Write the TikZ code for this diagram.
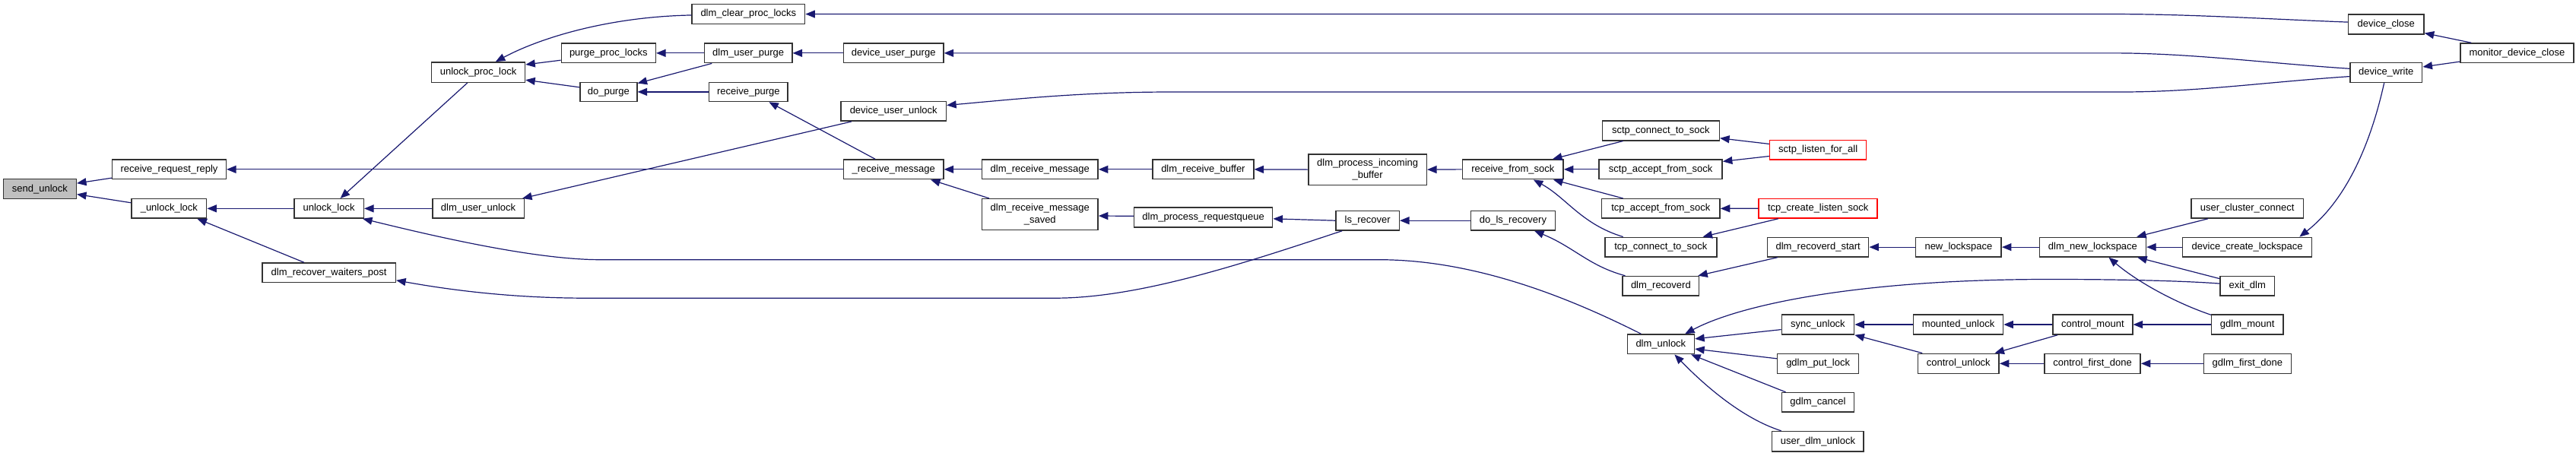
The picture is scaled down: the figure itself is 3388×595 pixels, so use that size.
\documentclass[tikz,border=0pt]{standalone}
\usepackage{fontspec}
\setmainfont{Liberation Sans}
\usetikzlibrary{arrows.meta,calc}
\definecolor{edgeblue}{HTML}{191970}
\definecolor{boxline}{HTML}{333333}
\definecolor{rootfill}{HTML}{BFBFBF}
\tikzset{
  box/.style={draw=boxline, line width=1.5pt, fill=white, inner sep=0pt, align=center,
    font=\fontsize{13}{15.3}\selectfont},
  redbox/.style={draw=red},
  rootbox/.style={fill=rootfill},
  edge/.style={draw=edgeblue, line width=1.2pt, -{Triangle[length=12.5pt,width=10pt]}},
}
\newcommand\gbox[7][]{%
  \node[box,#1,minimum width={(#5-#3)*1pt},minimum height={(#6-#4)*1pt}] (#2) at ({(#3+#5)/2},{(#4+#6)/2}) {#7};}
\begin{document}
\begin{tikzpicture}[x=1pt,y=-1pt]
\useasboundingbox (0,0) rectangle (3388,595);
% nodes
\gbox[rootbox]{sendu}{4.6}{235.7}{100.3}{261.7}{send\_unlock}
\gbox{rrr}{147.7}{210}{297.3}{235.7}{receive\_request\_reply}
\gbox{ulock}{173}{261.7}{271.7}{287}{\_unlock\_lock}
\gbox{unl}{386.9}{261.7}{478.3}{287}{unlock\_lock}
\gbox{dwp}{344.8}{346}{520.4}{371.6}{dlm\_recover\_waiters\_post}
\gbox{upl}{567.7}{81.9}{690.5}{108.3}{unlock\_proc\_lock}
\gbox{dcpl}{910.1}{5.7}{1058.6}{31.4}{dlm\_clear\_proc\_locks}
\gbox{ppl}{738.3}{57}{862.3}{82.7}{purge\_proc\_locks}
\gbox{dup}{926.6}{57}{1041.8}{82.7}{dlm\_user\_purge}
\gbox{dop}{762.8}{108.3}{837.8}{133.5}{do\_purge}
\gbox{rp}{932.7}{108.3}{1036}{133.5}{receive\_purge}
\gbox{dlmuu}{568.8}{261.7}{689.3}{287}{dlm\_user\_unlock}
\gbox{dupg}{1109.5}{57}{1240.9}{82.7}{device\_user\_purge}
\gbox{duu}{1106}{133.5}{1244.4}{159.2}{device\_user\_unlock}
\gbox{rm}{1109.5}{210}{1240.9}{235.7}{\_receive\_message}
\gbox{drm}{1291.4}{210}{1444.1}{235.7}{dlm\_receive\_message}
\gbox{drms}{1291.4}{261.7}{1444.1}{302.7}{dlm\_receive\_message\\\_saved}
\gbox{drb}{1516}{210}{1648.8}{235.7}{dlm\_receive\_buffer}
\gbox{dpr}{1491.6}{273.2}{1673.7}{299.2}{dlm\_process\_requestqueue}
\gbox{dpib}{1721}{202.8}{1876.3}{243.4}{dlm\_process\_incoming\\\_buffer}
\gbox{rfs}{1923.4}{210}{2056.2}{235.7}{receive\_from\_sock}
\gbox{lsr}{1756.9}{277.4}{1840.3}{303}{ls\_recover}
\gbox{dlr}{1934.5}{277.4}{2045.4}{303}{do\_ls\_recovery}
\gbox{sct}{2107.4}{159.2}{2261.3}{184.8}{sctp\_connect\_to\_sock}
\gbox{sas}{2103.2}{210}{2265.1}{235.7}{sctp\_accept\_from\_sock}
\gbox{tas}{2106.7}{261.7}{2262}{287}{tcp\_accept\_from\_sock}
\gbox{tcs}{2110.9}{312.3}{2257.8}{337.9}{tcp\_connect\_to\_sock}
\gbox{dlmrd}{2134.2}{363.5}{2234.5}{389.2}{dlm\_recoverd}
\gbox{dlmu}{2140.3}{440}{2228.4}{465.7}{dlm\_unlock}
\gbox[redbox]{sla}{2327.6}{184.4}{2454.7}{210.1}{sctp\_listen\_for\_all}
\gbox[redbox]{tcls}{2313.1}{261.4}{2469.2}{287}{tcp\_create\_listen\_sock}
\gbox{drs}{2324.6}{312.3}{2457.7}{337.9}{dlm\_recoverd\_start}
\gbox{nl}{2519.7}{312.3}{2632.2}{337.9}{new\_lockspace}
\gbox{dnl}{2682.4}{312.3}{2822.4}{337.9}{dlm\_new\_lockspace}
\gbox{sync}{2343.3}{414}{2438.6}{440}{sync\_unlock}
\gbox{gpl}{2337.6}{465.3}{2444.7}{491.3}{gdlm\_put\_lock}
\gbox{gc}{2343.3}{516.6}{2438.6}{542.2}{gdlm\_cancel}
\gbox{udu}{2330.7}{567.5}{2451.2}{593.9}{user\_dlm\_unlock}
\gbox{mu}{2516.7}{414}{2634.5}{440}{mounted\_unlock}
\gbox{cu}{2522.4}{465.3}{2629.2}{491.3}{control\_unlock}
\gbox{cm}{2700}{414}{2804.8}{440}{control\_mount}
\gbox{cfd}{2688.9}{465.3}{2815.2}{491.3}{control\_first\_done}
\gbox{dc}{3088.5}{18.8}{3188}{44.8}{device\_close}
\gbox{mdc}{3235.8}{57}{3385}{82.7}{monitor\_device\_close}
\gbox{dw}{3090.8}{82.3}{3185.7}{108.3}{device\_write}
\gbox{ucc}{2881.8}{261.4}{3029.5}{287}{user\_cluster\_connect}
\gbox{dcl}{2870.7}{312.3}{3040.6}{337.9}{device\_create\_lockspace}
\gbox{exd}{2920.1}{363.5}{2991.3}{389.2}{exit\_dlm}
\gbox{gm}{2908.6}{414}{3002.8}{440}{gdlm\_mount}
\gbox{gfd}{2898.3}{465.3}{3013.5}{491.3}{gdlm\_first\_done}
% edges (caller -> callee)
\draw[edge] ($(rrr.west)+(0,11.3)$) -- ($(sendu.east)+(0,-7.6)$);
\draw[edge] ($(ulock.west)+(0,-7.6)$) -- ($(sendu.east)+(0,6.9)$);
\draw[edge] (rm.west) -- (rrr.east);
\draw[edge] (unl.west) -- (ulock.east);
\draw[edge] ($(dwp.north)+(-32.7,0)$) -- ($(ulock.south east)+(-13,0)$);
\draw[edge] ($(upl.south)+(-14.4,0)$) -- ($(unl.north)+(15,0)$);
\draw[edge] (dlmuu.west) -- (unl.east);
\draw[edge] ($(dlmu.north)+(-26,0)$) .. controls (2080,400) and (1950,341.7) .. (1814,341.7)
  -- (789.6,341.7) .. controls (700,341.7) and (560,308) .. ($(unl.south east)+(-2,0)$);
\draw[edge] ($(lsr.south west)+(9,0)$) .. controls (1640,345) and (1500,392.2) .. (1388,392.2)
  -- (770.5,392.2) .. controls (680,392.2) and (600,383) .. ($(dwp.east)+(0,10)$);
\draw[edge] ($(dcpl.west)+(0,1.4)$) .. controls (800,22) and (710,50) .. ($(upl.north)+(22.7,0)$);
\draw[edge] ($(ppl.west)+(0,9.35)$) -- ($(upl.east)+(0,-10.1)$);
\draw[edge] ($(dop.west)+(0,-6.1)$) -- ($(upl.east)+(0,10.1)$);
\draw[edge] (dup.west) -- (ppl.east);
\draw[edge] ($(dup.south west)+(10.4,0)$) -- ($(dop.north east)+(0,2)$);
\draw[edge] (rp.west) -- (dop.east);
\draw[edge] ($(rm.north)+(-24.2,0)$) -- ($(rp.south)+(27,0)$);
\draw[edge] ($(duu.south west)+(14.6,0)$) -- ($(dlmuu.north east)+(-3,0)$);
\draw[edge] ($(dc.west)+(0,-2.7)$) .. controls (2980,25) and (2880,18.55) .. (2780,18.55) -- (dcpl.east);
\draw[edge] (dupg.west) -- (dup.east);
\draw[edge] ($(dw.west)+(0,-5)$) .. controls (2980,83) and (2880,69.85) .. (2780,69.85) -- (dupg.east);
\draw[edge] ($(dw.west)+(0,5.3)$) .. controls (2980,108) and (2890,121) .. (2790,121)
  -- (1541,121) .. controls (1420,121) and (1330,131) .. ($(duu.east)+(0,-7.85)$);
\draw[edge] (drm.west) -- (rm.east);
\draw[edge] ($(drms.north west)+(10.4,0)$) -- ($(rm.south east)+(-17.6,0)$);
\draw[edge] (drb.west) -- (drm.east);
\draw[edge] ($(dpr.west)+(0,-1.9)$) -- ($(drms.east)+(0,1.8)$);
\draw[edge] (dpib.west) -- (drb.east);
\draw[edge] (lsr.west) -- ($(dpr.east)+(0,1.6)$);
\draw[edge] (rfs.west) -- (dpib.east);
\draw[edge] (dlr.west) -- (lsr.east);
\draw[edge] ($(sct.south west)+(28,0)$) -- ($(rfs.north east)+(-15,0)$);
\draw[edge] (sas.west) -- (rfs.east);
\draw[edge] ($(tas.north west)+(28.7,0)$) -- ($(rfs.south east)+(-14,0)$);
\draw[edge] ($(tcs.north west)+(24.5,0)$) .. controls (2080,295) and (2060,260) .. ($(rfs.south)+(27,0)$);
\draw[edge] ($(dlmrd.north west)+(4,0)$) .. controls (2090,350) and (2070,325) .. ($(dlr.south)+(28,0)$);
\draw[edge] ($(sla.west)+(0,-7.85)$) -- ($(sct.east)+(0,9.8)$);
\draw[edge] ($(sla.west)+(0,8.25)$) -- ($(sas.east)+(0,-10.45)$);
\draw[edge] (tcls.west) -- (tas.east);
\draw[edge] ($(tcls.south west)+(26.4,0)$) -- ($(tcs.north east)+(-19,0)$);
\draw[edge] ($(drs.south west)+(14,0)$) -- ($(dlmrd.north east)+(-2,0)$);
\draw[edge] (nl.west) -- (drs.east);
\draw[edge] (dnl.west) -- (nl.east);
\draw[edge] ($(ucc.south west)+(23,0)$) -- ($(dnl.north east)+(-13,0)$);
\draw[edge] (dcl.west) -- (dnl.east);
\draw[edge] ($(exd.west)+(0,-9.7)$) -- ($(dnl.south east)+(-12,0)$);
\draw[edge] ($(gm.north west)+(0,1)$) .. controls (2860,398) and (2810,370) .. ($(dnl.south)+(21,0)$);
\draw[edge] ($(dw.south)+(-2.6,0)$) .. controls (3120,180) and (3090,260) .. ($(dcl.north east)+(-17,0)$);
\draw[edge] ($(mdc.north west)+(15.2,0)$) -- ($(dc.south east)+(0,-2)$);
\draw[edge] ($(mdc.west)+(0,11.25)$) -- ($(dw.east)+(0,-7.3)$);
\draw[edge] ($(exd.west)+(0,-3.25)$) .. controls (2880,370) and (2800,367.5) .. (2700,367.5)
  .. controls (2450,367) and (2290,400) .. ($(dlmu.north east)+(-13,0)$);
\draw[edge] ($(sync.west)+(0,6.6)$) -- ($(dlmu.east)+(0,-7)$);
\draw[edge] ($(gpl.west)+(0,-6.5)$) -- ($(dlmu.east)+(0,6.2)$);
\draw[edge] ($(gc.north west)+(6,0)$) -- ($(dlmu.south east)+(-5,0)$);
\draw[edge] ($(udu.north west)+(12.6,0)$) .. controls (2290,550) and (2240,505) .. ($(dlmu.south)+(18,0)$);
\draw[edge] (mu.west) -- (sync.east);
\draw[edge] ($(cu.north west)+(6.6,0)$) -- (sync.south east);
\draw[edge] (cm.west) -- (mu.east);
\draw[edge] ($(cm.south west)+(6.9,0)$) -- ($(cu.north east)+(-6.5,0)$);
\draw[edge] (cfd.west) -- (cu.east);
\draw[edge] (gm.west) -- (cm.east);
\draw[edge] (gfd.west) -- (cfd.east);
\end{tikzpicture}
\end{document}
